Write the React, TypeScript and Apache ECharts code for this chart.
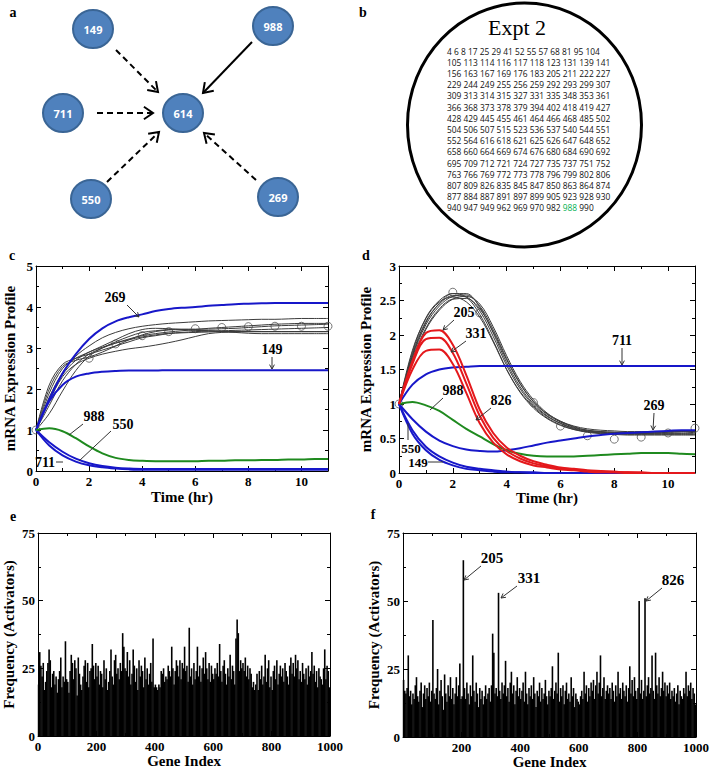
import React, { useEffect, useRef } from 'react';
import * as echarts from 'echarts';

const SERIF = "'Liberation Serif', 'Times New Roman', serif";
const SANS = "'Open Sans', 'Liberation Sans', sans-serif";

// ---------- panel a: network ----------
const NODES = [
  { id: '149', x: 93, y: 29 },
  { id: '988', x: 273, y: 26 },
  { id: '711', x: 63, y: 113 },
  { id: '614', x: 183, y: 113 },
  { id: '550', x: 91, y: 199 },
  { id: '269', x: 278, y: 197 },
];

// ---------- panel b: gene list ----------
const EXPT_LINES = [
  '4 6 8 17 25 29 41 52 55 57 68 81 95 104',
  '105 113 114 116 117 118 123 131 139 141',
  '156 163 167 169 176 183 205 211 222 227',
  '229 244 249 255 256 259 292 293 299 307',
  '309 313 314 315 327 331 335 348 353 361',
  '366 368 373 378 379 394 402 418 419 427',
  '428 429 445 455 461 464 466 468 485 502',
  '504 506 507 515 523 536 537 540 544 551',
  '552 564 616 618 621 625 626 647 648 652',
  '658 660 664 669 674 676 680 684 690 692',
  '695 709 712 721 724 727 735 737 751 752',
  '763 766 769 772 773 778 796 799 802 806',
  '807 809 826 835 845 847 850 863 864 874',
  '877 884 887 891 897 899 905 923 928 930',
];
const EXPT_LAST = ['940 947 949 962 969 970 982 ', '988', ' 990'];

// ---------- panels c, d: time courses ----------
const T = [0, 0.5, 1, 1.5, 2, 2.5, 3, 3.5, 4, 4.5, 5, 5.5, 6, 6.5, 7, 7.5, 8, 8.5, 9, 9.5, 10, 10.5, 11];

const C_GRAY = [
  [1, 2.1, 2.6, 2.75, 2.85, 2.95, 3.05, 3.15, 3.25, 3.3, 3.35, 3.37, 3.38, 3.39, 3.4, 3.4, 3.4, 3.4, 3.4, 3.4, 3.4, 3.4, 3.4],
  [1, 1.9, 2.5, 2.75, 2.9, 3.05, 3.2, 3.35, 3.45, 3.48, 3.47, 3.45, 3.43, 3.42, 3.41, 3.4, 3.4, 3.4, 3.4, 3.4, 3.4, 3.4, 3.4],
  [1, 1.8, 2.4, 2.8, 3.05, 3.25, 3.38, 3.47, 3.53, 3.57, 3.6, 3.62, 3.64, 3.66, 3.67, 3.68, 3.69, 3.7, 3.7, 3.71, 3.72, 3.72, 3.72],
  [1, 1.4, 1.95, 2.45, 2.8, 3.0, 3.15, 3.28, 3.38, 3.42, 3.45, 3.46, 3.46, 3.46, 3.47, 3.48, 3.5, 3.52, 3.54, 3.55, 3.56, 3.57, 3.58],
  [1, 1.7, 2.3, 2.6, 2.75, 2.85, 2.92, 2.98, 3.02, 3.07, 3.13, 3.2, 3.28, 3.35, 3.38, 3.39, 3.4, 3.4, 3.4, 3.4, 3.4, 3.4, 3.4],
  [1, 1.75, 2.35, 2.7, 2.9, 3.02, 3.12, 3.2, 3.27, 3.32, 3.36, 3.38, 3.4, 3.41, 3.42, 3.43, 3.44, 3.45, 3.46, 3.47, 3.48, 3.49, 3.5],
  [1, 2.0, 2.55, 2.7, 2.78, 2.9, 3.05, 3.2, 3.32, 3.4, 3.44, 3.45, 3.44, 3.42, 3.4, 3.38, 3.36, 3.35, 3.35, 3.35, 3.35, 3.35, 3.35],
  [1, 1.6, 2.2, 2.6, 2.85, 3.0, 3.12, 3.22, 3.3, 3.35, 3.39, 3.42, 3.45, 3.48, 3.5, 3.52, 3.54, 3.56, 3.58, 3.59, 3.6, 3.6, 3.6],
];
const C_OBS_T = [0, 2, 3, 4, 5, 6, 7, 8, 9, 10, 11];
const C_OBS = [1, 2.75, 3.1, 3.3, 3.4, 3.47, 3.5, 3.52, 3.53, 3.53, 3.53];
const C_269 = [1, 1.75, 2.38, 2.85, 3.22, 3.48, 3.65, 3.75, 3.82, 3.9, 3.95, 3.98, 4.0, 4.03, 4.05, 4.07, 4.08, 4.09, 4.1, 4.1, 4.1, 4.1, 4.1];
const C_149 = [1, 1.7, 2.1, 2.3, 2.38, 2.42, 2.44, 2.45, 2.45, 2.45, 2.46, 2.46, 2.46, 2.46, 2.46, 2.46, 2.46, 2.46, 2.46, 2.46, 2.46, 2.46, 2.46];
const C_711 = [1, 0.62, 0.38, 0.23, 0.14, 0.09, 0.06, 0.04, 0.03, 0.03, 0.03, 0.03, 0.03, 0.03, 0.03, 0.03, 0.03, 0.03, 0.03, 0.03, 0.03, 0.03, 0.03];
const C_550 = [1, 0.7, 0.47, 0.3, 0.19, 0.12, 0.08, 0.06, 0.05, 0.05, 0.05, 0.05, 0.05, 0.05, 0.05, 0.05, 0.05, 0.05, 0.05, 0.05, 0.05, 0.05, 0.05];
const C_988 = [1, 1.04, 0.97, 0.8, 0.6, 0.43, 0.32, 0.27, 0.25, 0.24, 0.24, 0.24, 0.24, 0.25, 0.25, 0.26, 0.26, 0.27, 0.27, 0.28, 0.28, 0.29, 0.29];

const D_BLACK = [
  [1, 1.72, 2.2, 2.45, 2.57, 2.55, 2.35, 1.98, 1.56, 1.22, 0.98, 0.82, 0.72, 0.65, 0.61, 0.59, 0.58, 0.57, 0.57, 0.57, 0.57, 0.57, 0.57],
  [1, 1.68, 2.15, 2.42, 2.56, 2.58, 2.42, 2.08, 1.66, 1.3, 1.03, 0.85, 0.74, 0.66, 0.62, 0.6, 0.59, 0.58, 0.58, 0.58, 0.58, 0.58, 0.59],
  [1, 1.75, 2.25, 2.5, 2.6, 2.55, 2.3, 1.92, 1.5, 1.17, 0.94, 0.79, 0.69, 0.63, 0.6, 0.58, 0.57, 0.56, 0.56, 0.56, 0.56, 0.56, 0.56],
  [1, 1.65, 2.1, 2.38, 2.52, 2.53, 2.38, 2.05, 1.64, 1.29, 1.03, 0.86, 0.75, 0.68, 0.64, 0.62, 0.61, 0.6, 0.6, 0.6, 0.6, 0.6, 0.6],
  [1, 1.7, 2.18, 2.46, 2.6, 2.6, 2.4, 2.03, 1.6, 1.25, 1.0, 0.83, 0.72, 0.64, 0.6, 0.58, 0.57, 0.57, 0.57, 0.58, 0.59, 0.6, 0.61],
  [1, 1.78, 2.24, 2.48, 2.55, 2.48, 2.26, 1.9, 1.5, 1.18, 0.96, 0.8, 0.7, 0.63, 0.59, 0.57, 0.56, 0.55, 0.55, 0.55, 0.55, 0.55, 0.55],
  [1, 1.62, 2.08, 2.36, 2.52, 2.56, 2.45, 2.12, 1.7, 1.33, 1.06, 0.87, 0.75, 0.67, 0.62, 0.6, 0.59, 0.59, 0.59, 0.59, 0.6, 0.6, 0.6],
];
const D_OBS_T = [0, 2, 3, 5, 6, 7, 8, 9, 10, 11];
const D_OBS = [1, 2.62, 2.32, 1.02, 0.68, 0.54, 0.49, 0.52, 0.58, 0.65];
const D_205 = [1, 1.62, 2.03, 2.07, 1.86, 1.42, 0.92, 0.58, 0.37, 0.25, 0.17, 0.12, 0.08, 0.06, 0.04, 0.03, 0.02, 0.01, 0.01, 0, 0, 0, 0];
const D_331 = [1, 1.58, 1.94, 1.96, 1.74, 1.3, 0.83, 0.51, 0.32, 0.21, 0.14, 0.1, 0.07, 0.05, 0.03, 0.02, 0.01, 0.01, 0, 0, 0, 0, 0];
const D_826 = [1, 1.5, 1.77, 1.79, 1.58, 1.16, 0.72, 0.44, 0.27, 0.17, 0.11, 0.08, 0.05, 0.04, 0.02, 0.01, 0.01, 0, 0, 0, 0, 0, 0];
const D_711 = [1, 1.28, 1.43, 1.5, 1.53, 1.54, 1.55, 1.55, 1.55, 1.55, 1.55, 1.55, 1.55, 1.55, 1.55, 1.55, 1.55, 1.55, 1.55, 1.55, 1.55, 1.55, 1.55];
const D_269 = [1, 0.78, 0.6, 0.47, 0.39, 0.34, 0.32, 0.31, 0.33, 0.36, 0.4, 0.44, 0.47, 0.5, 0.53, 0.55, 0.57, 0.58, 0.59, 0.6, 0.61, 0.62, 0.62];
const D_988 = [1, 1.03, 0.98, 0.9, 0.77, 0.64, 0.53, 0.42, 0.33, 0.28, 0.25, 0.24, 0.24, 0.24, 0.25, 0.26, 0.27, 0.28, 0.29, 0.29, 0.29, 0.28, 0.27];
const D_550 = [1, 0.62, 0.38, 0.24, 0.15, 0.09, 0.06, 0.04, 0.02, 0.01, 0.01, 0, 0, 0, 0, 0, 0, 0, 0, 0, 0, 0, 0];
const D_149 = [1, 0.57, 0.33, 0.19, 0.11, 0.06, 0.04, 0.02, 0.01, 0.01, 0, 0, 0, 0, 0, 0, 0, 0, 0, 0, 0, 0, 0];

// ---------- panels e, f: activator frequencies (one value per 4 genes) ----------
const E_FREQ = [
  19, 31, 26, 22, 27, 17, 20, 24, 27, 32, 28, 18, 23, 24, 19, 22, 16, 21, 24, 29, 18, 22, 20, 35, 21,
  20, 16, 24, 30, 27, 21, 28, 25, 15, 29, 23, 19, 17, 22, 26, 28, 20, 27, 18, 24, 25, 34, 26, 21, 27,
  22, 26, 19, 24, 23, 18, 28, 21, 25, 17, 20, 24, 32, 22, 19, 28, 30, 23, 25, 21, 27, 24, 38, 33, 25,
  24, 31, 22, 28, 19, 23, 32, 26, 20, 25, 17, 28, 22, 26, 24, 18, 29, 21, 25, 19, 23, 27, 20, 36, 18,
  19, 18, 17, 19, 18, 24, 23, 25, 20, 22, 21, 26, 24, 22, 33, 25, 19, 24, 28, 26, 22, 28, 21, 27, 25,
  33, 24, 26, 20, 40, 22, 25, 19, 27, 21, 24, 33, 22, 26, 20, 25, 29, 23, 31, 25, 21, 27, 20, 26, 23,
  21, 25, 23, 27, 22, 34, 24, 20, 26, 28, 23, 19, 25, 22, 30, 21, 26, 24, 19, 36, 43, 38, 24, 28, 25,
  27, 24, 29, 22, 26, 21, 25, 23, 18, 20, 17, 19, 23, 17, 24, 21, 26, 19, 22, 30, 20, 25, 28, 18, 22,
  17, 24, 26, 21, 28, 19, 23, 26, 22, 25, 20, 27, 24, 22, 19, 26, 29, 23, 27, 22, 30, 25, 28, 21, 24,
  20, 27, 23, 21, 25, 19, 26, 22, 24, 31, 23, 26, 20, 24, 18, 25, 22, 21, 19, 25, 32, 21, 26, 24, 18,
];
const F_FREQ = [
  21, 17, 16, 18, 30, 15, 17, 12, 16, 14, 19, 22, 15, 13, 17, 20, 11, 16, 19, 14, 18, 15, 20, 13, 17,
  43, 16, 14, 18, 25, 12, 17, 21, 15, 10, 23, 16, 13, 19, 15, 22, 14, 18, 12, 16, 22, 15, 19, 27, 14,
  15, 65, 18, 14, 20, 16, 12, 19, 15, 30, 17, 13, 20, 16, 11, 18, 14, 17, 12, 15, 19, 14, 16, 18, 13,
  19, 38, 31, 16, 18, 15, 53, 17, 14, 20, 16, 19, 28, 15, 18, 13, 20, 24, 16, 19, 12, 17, 22, 15, 18,
  14, 17, 20, 13, 24, 16, 12, 18, 15, 19, 14, 22, 16, 11, 17, 15, 20, 13, 18, 14, 16, 21, 15, 12, 17,
  15, 18, 26, 14, 17, 20, 16, 31, 13, 18, 15, 19, 12, 17, 20, 14, 16, 13, 22, 15, 18, 11, 16, 14, 13,
  12, 15, 17, 14, 24, 16, 19, 13, 18, 15, 20, 17, 21, 14, 19, 24, 16, 20, 30, 15, 18, 22, 14, 17, 19,
  16, 18, 14, 20, 17, 13, 19, 15, 24, 16, 18, 14, 20, 17, 15, 19, 13, 18, 26, 16, 21, 15, 22, 17, 14,
  18, 50, 16, 21, 14, 17, 51, 15, 19, 22, 16, 18, 30, 17, 14, 31, 19, 16, 22, 15, 18, 24, 17, 20, 15,
  19, 16, 20, 14, 17, 15, 18, 13, 16, 19, 12, 17, 15, 14, 18, 16, 24, 15, 19, 17, 20, 14, 18, 16, 12,
];
const GENE_POS = E_FREQ.map((_, i) => 2 + 4 * i);

const BLUE = '#1717c9';
const GREEN = '#1f8a1f';
const RED = '#e4181c';
const GRAY = '#3c3c3c';

function arrow(x1: number, y1: number, x2: number, y2: number, opts: any = {}) {
  const color = opts.color || '#000';
  const lw = opts.lw || 1;
  const L = opts.head || 5;
  const a = opts.spread || 0.5;
  const ang = Math.atan2(y2 - y1, x2 - x1);
  const p1 = [x2 - L * Math.cos(ang - a), y2 - L * Math.sin(ang - a)];
  const p2 = [x2 - L * Math.cos(ang + a), y2 - L * Math.sin(ang + a)];
  const els: any[] = [
    { type: 'line', shape: { x1, y1, x2, y2 }, style: { stroke: color, lineWidth: lw, lineDash: opts.dash || null }, z: 10 },
  ];
  if (!opts.noHead) {
    els.push({ type: 'polyline', shape: { points: [p1, [x2, y2], p2] }, style: { stroke: color, lineWidth: lw, fill: null }, z: 10 });
  }
  return els;
}

function label(text: string, x: number, y: number, size = 14) {
  return {
    type: 'text', x, y, z: 11,
    style: { text, fontFamily: SERIF, fontWeight: 'bold', fontSize: size, fill: '#000', align: 'center', verticalAlign: 'middle' },
  };
}

const axisFont = { color: '#000', fontFamily: SERIF, fontWeight: 'bold', fontSize: 13 };
const nameFont = { color: '#000', fontFamily: SERIF, fontWeight: 'bold', fontSize: 15 };

function xAxes(g: number, min: number, max: number, interval: number, name: string, nameGap: number, hideZero = false) {
  const base: any = {
    type: 'value', gridIndex: g, min, max, interval,
    axisLine: { show: true, onZero: false, lineStyle: { color: '#000', width: 1 } },
    axisTick: { show: true, inside: true, length: 5, lineStyle: { color: '#000' } },
    minorTick: { show: true, splitNumber: 2, length: 3, lineStyle: { color: '#000' } },
    splitLine: { show: false },
    minorSplitLine: { show: false },
  };
  return [
    {
      ...base, position: 'bottom',
      axisLabel: { ...axisFont, margin: 4, showMaxLabel: max % interval === 0, formatter: (v: number) => (hideZero && v === 0 ? '' : String(v)) },
      name, nameLocation: 'middle', nameGap, nameTextStyle: nameFont,
    },
    { ...base, position: 'top', axisLabel: { show: false } },
  ];
}

function yAxes(g: number, min: number, max: number, interval: number, name: string, nameGap: number) {
  const base: any = {
    type: 'value', gridIndex: g, min, max, interval,
    axisLine: { show: true, onZero: false, lineStyle: { color: '#000', width: 1 } },
    axisTick: { show: true, inside: true, length: 5, lineStyle: { color: '#000' } },
    minorTick: { show: true, splitNumber: 2, length: 3, lineStyle: { color: '#000' } },
    splitLine: { show: false },
    minorSplitLine: { show: false },
  };
  return [
    {
      ...base, position: 'left',
      axisLabel: { ...axisFont, margin: 3 },
      name, nameLocation: 'middle', nameGap, nameRotate: 90, nameTextStyle: nameFont,
    },
    { ...base, position: 'right', axisLabel: { show: false } },
  ];
}

function curve(p: number, values: number[], color: string, width: number) {
  return {
    type: 'line', xAxisIndex: 2 * p, yAxisIndex: 2 * p,
    data: T.map((t, i) => [t, values[i]]),
    smooth: 0.35, showSymbol: false, symbol: 'none', silent: true,
    lineStyle: { color, width },
  };
}

function obs(p: number, ts: number[], vs: number[]) {
  return {
    type: 'scatter', xAxisIndex: 2 * p, yAxisIndex: 2 * p,
    data: ts.map((t, i) => [t, vs[i]]),
    symbol: 'circle', symbolSize: 8, silent: true,
    itemStyle: { color: 'rgba(0,0,0,0)', borderColor: '#555', borderWidth: 1 },
  };
}

function bars(p: number, values: number[]) {
  return {
    type: 'bar', xAxisIndex: 2 * p, yAxisIndex: 2 * p,
    data: values.map((v, i) => [GENE_POS[i], v]),
    barWidth: 1.6, silent: true,
    itemStyle: { color: '#000' },
  };
}

function buildGraphics() {
  const els: any[] = [];
  // panel letters
  els.push(label('a', 13, 12), label('b', 363, 12), label('c', 12, 255), label('d', 366, 255), label('e', 13, 516), label('f', 373, 514));

  // panel a: arrows
  els.push(...arrow(116, 50, 158, 92, { lw: 2, head: 11, spread: 0.6, dash: [6, 4] }));
  els.push(...arrow(252, 42, 203, 93, { lw: 2, head: 11, spread: 0.6 }));
  els.push(...arrow(97, 113, 153, 113, { lw: 2, head: 11, spread: 0.6, dash: [6, 4] }));
  els.push(...arrow(107, 182, 159, 132, { lw: 2, head: 11, spread: 0.6, dash: [6, 4] }));
  els.push(...arrow(256, 180, 204, 133, { lw: 2, head: 11, spread: 0.6, dash: [6, 4] }));
  // panel a: nodes
  NODES.forEach((n) => {
    els.push({ type: 'ellipse', shape: { cx: n.x, cy: n.y, rx: 20, ry: 19 }, style: { fill: '#4f81bd', stroke: '#3a6595', lineWidth: 2 }, z: 12 });
    els.push({
      type: 'text', x: n.x, y: n.y + 0.5, z: 13,
      style: { text: n.id, fontFamily: SANS, fontWeight: 'bold', fontSize: 11, fill: '#fff', align: 'center', verticalAlign: 'middle' },
    });
  });

  // panel b
  els.push({ type: 'ellipse', shape: { cx: 524.5, cy: 125, rx: 117, ry: 122 }, style: { fill: null, stroke: '#000', lineWidth: 3 } });
  els.push({
    type: 'text', x: 517, y: 27,
    style: { text: 'Expt 2', fontFamily: SERIF, fontSize: 22, fill: '#000', align: 'center', verticalAlign: 'middle' },
  });
  EXPT_LINES.forEach((line, i) => {
    els.push({
      type: 'text', x: 447, y: 51 + i * 11.2,
      style: { text: line, fontFamily: SANS, fontSize: 8.4, fill: '#111', align: 'left', verticalAlign: 'middle' },
    });
  });
  els.push({
    type: 'text', x: 447, y: 51 + 14 * 11.2,
    style: {
      text: `{a|${EXPT_LAST[0]}}{g|${EXPT_LAST[1]}}{a|${EXPT_LAST[2]}}`,
      align: 'left', verticalAlign: 'middle',
      rich: {
        a: { fontFamily: SANS, fontSize: 8.4, fill: '#111' },
        g: { fontFamily: SANS, fontSize: 8.4, fill: '#00b050' },
      },
    },
  });

  // panel c annotations
  const g = { color: '#333', lw: 1, head: 5 };
  els.push(label('269', 115, 297), ...arrow(127, 305, 139, 317, g));
  els.push(label('149', 272, 349), ...arrow(272, 357, 272, 369, g));
  els.push(label('988', 94, 416), ...arrow(83, 424, 69, 435, { ...g, noHead: true }));
  els.push(label('550', 123, 424), ...arrow(111, 431, 79, 461, { ...g, noHead: true }));
  els.push(label('711', 45, 462), ...arrow(56, 462, 63, 462, { ...g, noHead: true }));

  // panel d annotations
  els.push(label('205', 464, 312), ...arrow(454, 320, 443, 330, g));
  els.push(label('331', 476, 333), ...arrow(466, 341, 451, 352, g));
  els.push(label('711', 622, 340), ...arrow(622, 348, 622, 365, g));
  els.push(label('988', 453, 390), ...arrow(443, 398, 430, 410, { ...g, noHead: true }));
  els.push(label('826', 501, 400), ...arrow(491, 408, 476, 420, g));
  els.push(label('269', 654, 405), ...arrow(654, 413, 653, 430, g));
  els.push(label('550', 411, 448, 13), ...arrow(408, 440, 408, 423, { ...g, noHead: true }));
  els.push(label('149', 418, 462, 13), ...arrow(428, 462, 443, 462, { ...g, noHead: true }));

  // panel f annotations
  els.push(label('205', 492, 558, 15), ...arrow(481, 566, 464, 580, g));
  els.push(label('331', 529, 578, 15), ...arrow(517, 586, 501, 598, g));
  els.push(label('826', 673, 580, 15), ...arrow(662, 588, 646, 601, g));
  return els;
}

export default function App() {
  const ref = useRef<HTMLDivElement>(null);
  useEffect(() => {
    document.body.style.margin = '0';
    if (!ref.current) return;
    const chart = echarts.init(ref.current, undefined, { renderer: 'svg' });

    const grids = [
      { left: 36, top: 266, width: 292, height: 205 },
      { left: 399, top: 266, width: 296, height: 207 },
      { left: 38, top: 533, width: 292, height: 203 },
      { left: 403, top: 533, width: 293, height: 204 },
    ].map((gr) => ({ ...gr, outerBoundsMode: 'none', containLabel: false, show: false }));

    const xAxis = [
      ...xAxes(0, 0, 11, 2, 'Time (hr)', 18),
      ...xAxes(1, 0, 11, 2, 'Time (hr)', 16),
      ...xAxes(2, 0, 1000, 200, 'Gene Index', 17),
      ...xAxes(3, 0, 1000, 200, 'Gene Index', 17, true),
    ];
    const yAxis = [
      ...yAxes(0, 0, 5, 1, 'mRNA Expression Profile', 19),
      ...yAxes(1, 0, 3, 0.5, 'mRNA Expression Profile', 26),
      ...yAxes(2, 0, 75, 25, 'Frequency (Activators)', 22),
      ...yAxes(3, 0, 75, 25, 'Frequency (Activators)', 22),
    ];

    const series: any[] = [
      ...C_GRAY.map((v) => curve(0, v, GRAY, 1)),
      obs(0, C_OBS_T, C_OBS),
      curve(0, C_711, BLUE, 2),
      curve(0, C_550, BLUE, 2),
      curve(0, C_149, BLUE, 2),
      curve(0, C_269, BLUE, 2),
      curve(0, C_988, GREEN, 2),

      ...D_BLACK.map((v) => curve(1, v, GRAY, 1)),
      obs(1, D_OBS_T, D_OBS),
      curve(1, D_711, BLUE, 2),
      curve(1, D_269, BLUE, 2),
      curve(1, D_550, BLUE, 2),
      curve(1, D_149, BLUE, 2),
      curve(1, D_988, GREEN, 2),
      curve(1, D_205, RED, 2),
      curve(1, D_331, RED, 2),
      curve(1, D_826, RED, 2),

      bars(2, E_FREQ),
      bars(3, F_FREQ),
    ];

    chart.setOption({
      animation: false,
      backgroundColor: '#fff',
      textStyle: { fontFamily: SERIF },
      grid: grids,
      xAxis,
      yAxis,
      series,
      graphic: { elements: buildGraphics() },
    });
    return () => chart.dispose();
  }, []);
  return <div ref={ref} style={{ width: 710, height: 770 }} />;
}
